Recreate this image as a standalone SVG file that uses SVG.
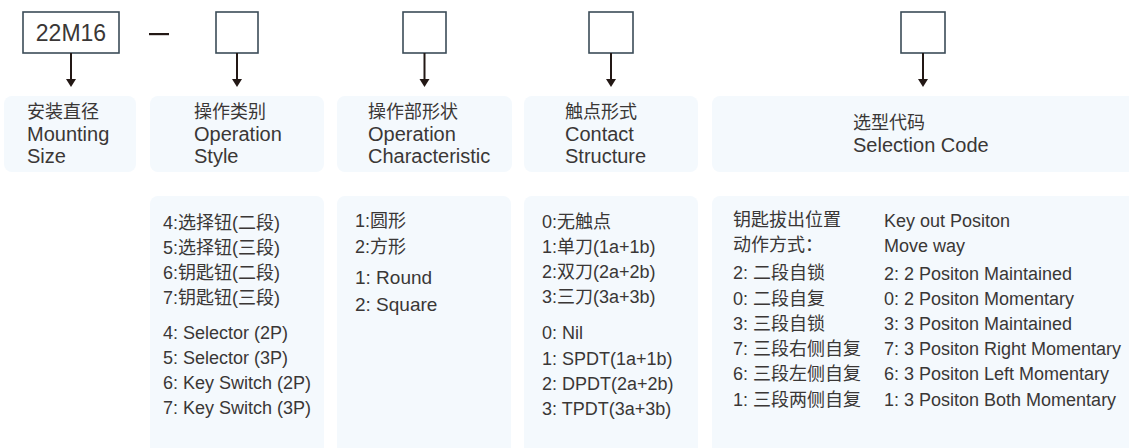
<svg xmlns="http://www.w3.org/2000/svg" width="1129" height="448" viewBox="0 0 1129 448">
<defs>
<style>
.box{fill:#fff;stroke:#3b4c58;stroke-width:1.6}
.panel{fill:#f4f9fd}
.t{font-family:"Liberation Sans","Noto Sans CJK SC",sans-serif;fill:#3a3736}
.en{font-size:20px}
.cj{font-size:18px}
.s{font-size:18px}
.conn{stroke:#231815;stroke-width:2;fill:none}
</style>
<marker id="ah" markerWidth="10" markerHeight="8" refX="5" refY="8" orient="auto" markerUnits="userSpaceOnUse" viewBox="0 0 10 8">
<path d="M0,0 L10,0 L5,8 Z" fill="#231815" transform="rotate(-90 5 4) translate(-1,1)"/>
</marker>
</defs>
<rect width="1129" height="448" fill="#fff"/>

<g id="code-22M16">
<rect class="box" x="23" y="12" width="96" height="41"/>
<text class="t" x="71" y="41" font-size="23" text-anchor="middle">22M16</text>
</g>
<g id="dash"><rect x="149" y="33" width="20" height="2.2" fill="#231815"/></g>
<g id="code-2"><rect class="box" x="216" y="12" width="42" height="41"/></g>
<g id="code-3"><rect class="box" x="403" y="12" width="43" height="41"/></g>
<g id="code-4"><rect class="box" x="589" y="12" width="44" height="41"/></g>
<g id="code-5"><rect class="box" x="901" y="12" width="44" height="41"/></g>

<g id="connectors">
<line class="conn" x1="71" y1="53" x2="71" y2="80"/>
<path d="M66,79 L76,79 L71,87 Z" fill="#231815"/>
<line class="conn" x1="237" y1="53" x2="237" y2="80"/>
<path d="M232,79 L242,79 L237,87 Z" fill="#231815"/>
<line class="conn" x1="424.5" y1="53" x2="424.5" y2="80"/>
<path d="M419.5,79 L429.5,79 L424.5,87 Z" fill="#231815"/>
<line class="conn" x1="611" y1="53" x2="611" y2="80"/>
<path d="M606,79 L616,79 L611,87 Z" fill="#231815"/>
<line class="conn" x1="923" y1="53" x2="923" y2="80"/>
<path d="M918,79 L928,79 L923,87 Z" fill="#231815"/>
</g>

<g id="label-mounting">
<rect class="panel" x="4" y="96" width="132" height="76" rx="8"/>
<text class="t cj" x="27" y="118">安装直径</text>
<text class="t en" x="27" y="141">Mounting</text>
<text class="t en" x="27" y="163">Size</text>
</g>
<g id="label-style">
<rect class="panel" x="150" y="96" width="174" height="76" rx="8"/>
<text class="t cj" x="194" y="118">操作类别</text>
<text class="t en" x="194" y="141">Operation</text>
<text class="t en" x="194" y="163">Style</text>
</g>
<g id="label-characteristic">
<rect class="panel" x="337" y="96" width="175" height="76" rx="8"/>
<text class="t cj" x="368" y="118">操作部形状</text>
<text class="t en" x="368" y="141">Operation</text>
<text class="t en" x="368" y="163">Characteristic</text>
</g>
<g id="label-contact">
<rect class="panel" x="524" y="96" width="174" height="76" rx="8"/>
<text class="t cj" x="565" y="118">触点形式</text>
<text class="t en" x="565" y="141">Contact</text>
<text class="t en" x="565" y="163">Structure</text>
</g>
<g id="label-selection">
<rect class="panel" x="712" y="96" width="425" height="76" rx="8"/>
<text class="t cj" x="853" y="129">选型代码</text>
<text class="t en" x="853" y="152">Selection Code</text>
</g>

<g id="detail-style">
<rect class="panel" x="150" y="196" width="174" height="262" rx="8"/>
<text class="t s" x="163" y="229">4:选择钮(二段)</text>
<text class="t s" x="163" y="254">5:选择钮(三段)</text>
<text class="t s" x="163" y="279">6:钥匙钮(二段)</text>
<text class="t s" x="163" y="304">7:钥匙钮(三段)</text>
<text class="t s" x="163" y="339">4: Selector (2P)</text>
<text class="t s" x="163" y="364">5: Selector (3P)</text>
<text class="t s" x="163" y="389">6: Key Switch (2P)</text>
<text class="t s" x="163" y="414">7: Key Switch (3P)</text>
</g>
<g id="detail-characteristic">
<rect class="panel" x="337" y="196" width="174" height="262" rx="8"/>
<text class="t s" x="355" y="227">1:圆形</text>
<text class="t s" x="355" y="253">2:方形</text>
<text class="t" font-size="19" x="355" y="284">1: Round</text>
<text class="t" font-size="19" x="355" y="311">2: Square</text>
</g>
<g id="detail-contact">
<rect class="panel" x="524" y="196" width="174" height="262" rx="8"/>
<text class="t s" x="542" y="228">0:无触点</text>
<text class="t s" x="542" y="253">1:单刀(1a+1b)</text>
<text class="t s" x="542" y="278">2:双刀(2a+2b)</text>
<text class="t s" x="542" y="303">3:三刀(3a+3b)</text>
<text class="t s" x="542" y="339">0: Nil</text>
<text class="t s" x="542" y="365">1: SPDT(1a+1b)</text>
<text class="t s" x="542" y="390">2: DPDT(2a+2b)</text>
<text class="t s" x="542" y="415">3: TPDT(3a+3b)</text>
</g>
<g id="detail-selection">
<rect class="panel" x="712" y="196" width="425" height="262" rx="8"/>
<text class="t s" x="733" y="226">钥匙拔出位置</text>
<text class="t s" x="733" y="251">动作方式：</text>
<text class="t s" x="733" y="279">2: 二段自锁</text>
<text class="t s" x="733" y="305">0: 二段自复</text>
<text class="t s" x="733" y="330">3: 三段自锁</text>
<text class="t s" x="733" y="355">7: 三段右侧自复</text>
<text class="t s" x="733" y="380">6: 三段左侧自复</text>
<text class="t s" x="733" y="406">1: 三段两侧自复</text>
<text class="t s" x="884" y="227">Key out Positon</text>
<text class="t s" x="884" y="252">Move way</text>
<text class="t s" x="884" y="280">2: 2 Positon Maintained</text>
<text class="t s" x="884" y="305">0: 2 Positon Momentary</text>
<text class="t s" x="884" y="330">3: 3 Positon Maintained</text>
<text class="t s" x="884" y="355">7: 3 Positon Right Momentary</text>
<text class="t s" x="884" y="380">6: 3 Positon Left Momentary</text>
<text class="t s" x="884" y="406">1: 3 Positon Both Momentary</text>
</g>
</svg>
